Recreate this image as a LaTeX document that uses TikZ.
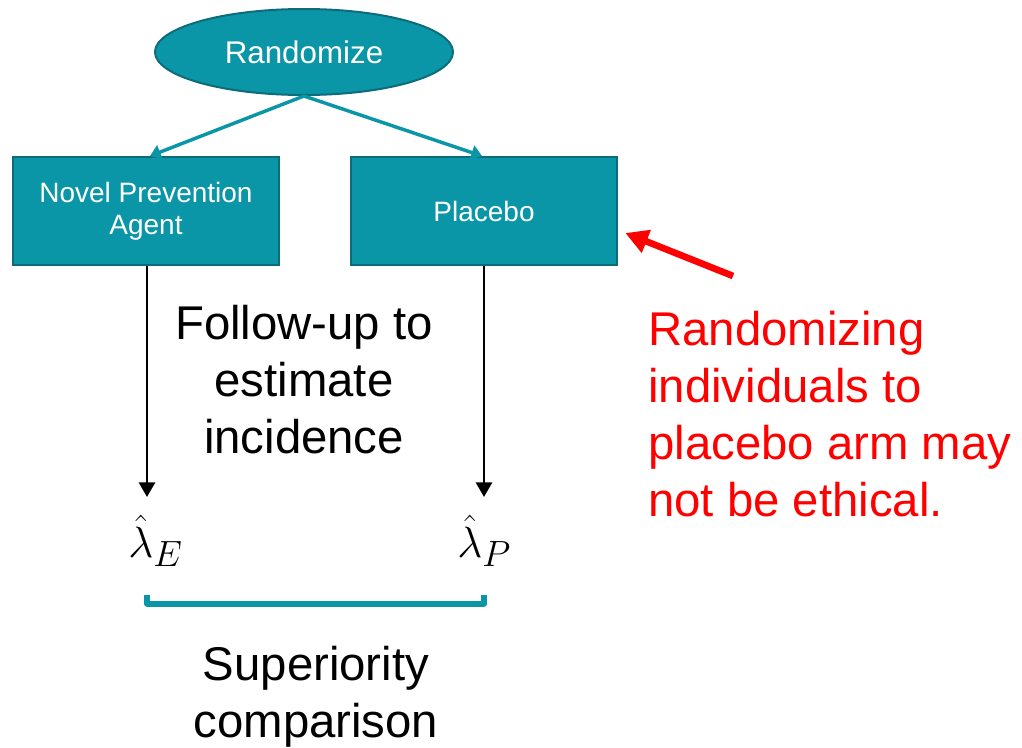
\documentclass[tikz,border=0pt]{standalone}
\usepackage{fontspec}
\setmainfont{Liberation Sans}
\usetikzlibrary{shapes.geometric,arrows.meta,calc}
\definecolor{tealfill}{RGB}{11,150,168}
\definecolor{tealedge}{RGB}{12,108,122}
\definecolor{warnred}{RGB}{255,0,0}
\begin{document}
\begin{tikzpicture}[x=0.75pt,y=-0.75pt,
  armbox/.style={draw=tealedge, line width=1.5pt, fill=tealfill, text=white,
    minimum width=200pt, minimum height=81pt, inner sep=0pt, align=center,
    font=\fontsize{21}{24}\selectfont},
  randnode/.style={ellipse, draw=tealedge, line width=1.5pt, fill=tealfill, text=white,
    minimum width=223.5pt, minimum height=64.5pt, inner sep=0pt,
    font=\fontsize{23.5}{28}\selectfont},
  tealarrow/.style={draw=tealfill, line width=2.6pt, -{Triangle[width=11pt,length=8pt]}},
  blackarrow/.style={draw=black, line width=2.2pt, -{Triangle[width=12pt,length=11pt]}},
  bigtext/.style={align=center, inner sep=0pt, font=\fontsize{35.5}{42.75}\selectfont},
  lamlabel/.style={inner sep=0pt, scale=1.32, font=\fontsize{24.88}{30}\selectfont},
  bracketline/.style={draw=tealfill, line width=4.5pt, line join=round},
  redarrow/.style={draw=warnred, line width=5pt, -{Triangle[width=17.5pt,length=17pt]}}
]
\useasboundingbox (0,0) rectangle (1022,747);

\node[randnode] (rand) at (304,52) {Randomize};
\node[armbox] (nov) at (146,211) {Novel Prevention\\Agent};
\node[armbox] (plc) at (484,211) {Placebo};

\draw[tealarrow] (rand.south) -- ([xshift=3pt]nov.north);
\draw[tealarrow] (rand.south) -- ([xshift=-1.5pt]plc.north);

\node[lamlabel, anchor=base west] (lamE) at (128,557) {$\hat{\lambda}_E$};
\node[lamlabel, anchor=base west] (lamP) at (457,557) {$\hat{\lambda}_P$};

\coordinate (tipE) at (147,497);
\coordinate (tipP) at (484,497);
\draw[blackarrow] ([xshift=0.75pt]nov.south) -- (tipE);
\draw[blackarrow] (plc.south) -- (tipP);

\node[bigtext, anchor=base] (follow) at (304,453) {Follow-up to\\estimate\\incidence};

\coordinate (bl) at (147,595);
\coordinate (br) at (484,595);
\draw[bracketline] (bl) -- ++(0,8.5) -| (br);

\node[bigtext, anchor=base] (sup) at (316,737) {Superiority\\comparison};

\node[bigtext, align=left, anchor=base west, text=warnred] (warn) at (648,516)
  {Randomizing\\individuals to\\placebo arm may\\not be ethical.};

\coordinate (redtail) at (733,276);
\draw[redarrow] (redtail) -- ($(plc.east)+(7,22)$);
\end{tikzpicture}
\end{document}
